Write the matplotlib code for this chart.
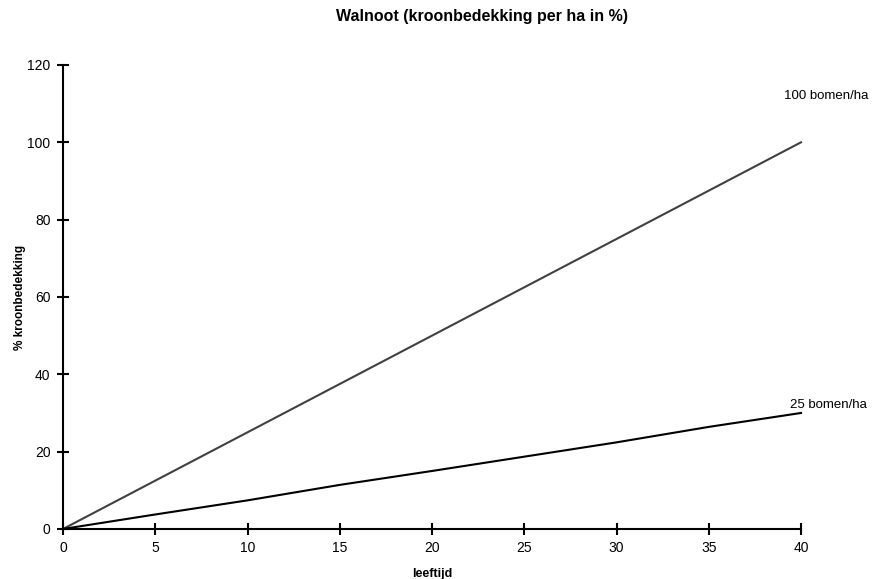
import matplotlib.pyplot as plt

plt.rcParams['font.family'] = ['Liberation Sans', 'DejaVu Sans']

leeftijd = [0, 5, 10, 15, 20, 25, 30, 35, 40]
bomen_100 = [0, 12.5, 25, 37.5, 50, 62.5, 75, 87.5, 100]
bomen_25 = [0, 3.75, 7.4, 11.4, 15.0, 18.7, 22.4, 26.4, 30]

fig = plt.figure(figsize=(8.74, 5.79), dpi=100)
ax = fig.add_axes([0.0721, 0.0864, 0.8444, 0.8014])

ax.plot(leeftijd, bomen_100, color="#404040", lw=1.5, clip_on=False)
ax.plot(leeftijd, bomen_25, color="black", lw=1.5, clip_on=False)

ax.text(39.1, 112, "100 bomen/ha", fontsize=9.5, va="center", ha="left")
ax.text(39.4, 32, "25 bomen/ha", fontsize=9.5, va="center", ha="left")

ax.set_xlim(0, 40)
ax.set_ylim(0, 120)
ax.set_xticks(range(0, 41, 5))
ax.set_yticks(range(0, 121, 20))
for s in ["top", "right"]:
    ax.spines[s].set_visible(False)
for s in ["left", "bottom"]:
    ax.spines[s].set_linewidth(1.5)
ax.tick_params(direction="inout", length=8, width=1.5, labelsize=10, pad=5)

ax.set_xlabel("leeftijd", fontsize=9, fontweight="bold", labelpad=9)
ax.set_ylabel("% kroonbedekking", fontsize=8.5, fontweight="bold", labelpad=1)
fig.suptitle("Walnoot (kroonbedekking per ha in %)", fontsize=11.5, fontweight="bold", y=0.985, x=0.552)

fig.savefig("out.png", dpi=100)
